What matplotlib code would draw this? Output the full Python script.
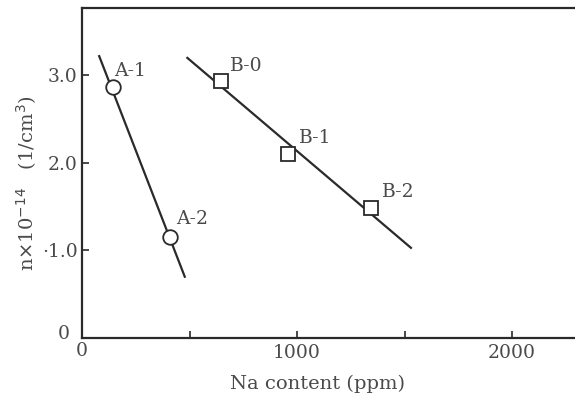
import matplotlib
matplotlib.use("Agg")
import matplotlib.pyplot as plt

# Data
a_x = [143, 407]
a_y = [2.87, 1.15]
a_labels = ["A-1", "A-2"]
b_x = [648, 958, 1343]
b_y = [2.94, 2.10, 1.49]
b_labels = ["B-0", "B-1", "B-2"]
fit_a_x = [80, 478]
fit_a_y = [3.22, 0.70]
fit_b_x = [490, 1530]
fit_b_y = [3.20, 1.03]
x_ticks = [500, 1000, 1500, 2000]
x_ticklabels = ["", "1000", "", "2000"]
y_ticks = [1.0, 2.0, 3.0]
y_ticklabels = ["·1.0", "2.0", "3.0"]

plt.rcParams['font.family'] = ['DejaVu Serif']
ink = '#2a2a2a'
txt = '#4a4a4a'
fs = 13.5

fig = plt.figure(figsize=(5.75, 4.01), dpi=100)
ax = fig.add_axes([82/575, 1-338/401, 1-82/575, 330/401])

ax.plot(fit_a_x, fit_a_y, color=ink, lw=1.6, zorder=2)
ax.plot(fit_b_x, fit_b_y, color=ink, lw=1.6, zorder=2)
ax.plot(a_x, a_y, 'o', ms=10.5, mfc='white', mec=ink, mew=1.3, ls='none', zorder=3)
ax.plot(b_x, b_y, 's', ms=9.5, mfc='white', mec=ink, mew=1.3, ls='none', zorder=3)

a_off = [(1, 5), (5, 7)]
b_off = [(6, 4), (8, 5), (8, 5)]
for x, y, s, o in zip(a_x, a_y, a_labels, a_off):
    ax.annotate(s, (x, y), xytext=o, textcoords='offset points', fontsize=fs,
                color=txt, ha='left', va='bottom')
for x, y, s, o in zip(b_x, b_y, b_labels, b_off):
    ax.annotate(s, (x, y), xytext=o, textcoords='offset points', fontsize=fs,
                color=txt, ha='left', va='bottom')

ax.set_xlim(0, 2293)
ax.set_ylim(0, 3.77)
ax.spines['right'].set_visible(False)
for sp in ['left', 'bottom', 'top']:
    ax.spines[sp].set_linewidth(1.6)
    ax.spines[sp].set_color(ink)

ax.set_xticks(x_ticks)
ax.set_xticklabels(x_ticklabels)
ax.set_yticks(y_ticks)
ax.set_yticklabels(y_ticklabels)
ax.tick_params(axis='both', direction='in', length=5, width=1.2, color=ink,
               labelsize=fs, labelcolor=txt)
ax.tick_params(axis='x', pad=4)
ax.tick_params(axis='y', pad=3)

ax.text(-0.025, 0.012, "0", transform=ax.transAxes, ha='right', va='center',
        fontsize=fs, color=txt)
ax.text(0, -0.012, "0", transform=ax.get_xaxis_transform(), ha='center', va='top',
        fontsize=fs, color=txt)

fig.text(318/575, 1-384/401, "Na content (ppm)", ha='center', va='center',
         fontsize=14, color=txt)
fig.text(27/575, 1-183/401, r"n$\times$10$^{-14}$   (1/cm$^3$)", ha='center', va='center',
         rotation=90, fontsize=14, color=txt)

fig.savefig("out.png", dpi=100)
